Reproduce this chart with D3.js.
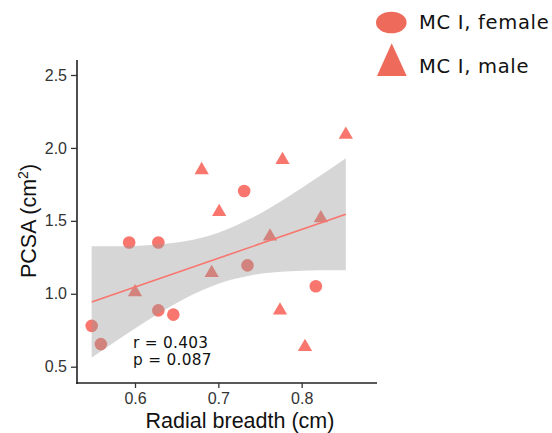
<!DOCTYPE html>
<head>
<meta charset="utf-8">
<style>
body { margin: 0; background: #fff; }
svg { display: block; }
</style>
</head>
<body>
<script src="https://d3js.org/d3.v7.min.js"></script>
<script>
(function() {
	// female points (circles)
	var femaleX = [0.548, 0.559, 0.593, 0.628, 0.628, 0.646, 0.731, 0.735, 0.817];
	var femaleY = [0.780, 0.655, 1.352, 1.352, 0.886, 0.857, 1.705, 1.195, 1.052];

	// male points (triangles)
	var maleX = [0.680, 0.777, 0.853, 0.701, 0.600, 0.692, 0.762, 0.823, 0.774, 0.804];
	var maleY = [1.848, 1.918, 2.091, 1.561, 1.011, 1.143, 1.393, 1.518, 0.886, 0.636];

	// fitted line and its confidence band
	var fitX = [0.548, 0.853];
	var fitY = [0.943, 1.546];
	var bandX = [0.548, 0.58, 0.62, 0.66, 0.70, 0.74, 0.78, 0.82, 0.853];
	var bandLo = [0.561, 0.686, 0.835, 0.968, 1.069, 1.127, 1.152, 1.161, 1.162];
	var bandHi = [1.325, 1.326, 1.335, 1.360, 1.419, 1.519, 1.652, 1.801, 1.930];

	var xTicks = [0.6, 0.7, 0.8];
	var yTicks = [0.5, 1.0, 1.5, 2.0, 2.5];
	var legendLabels = ["MC I, female", "MC I, male"];
	var statLabels = ["r = 0.403", "p = 0.087"];

	var W = 552, H = 433;
	var pointCol = "#F8766D", legendCol = "#EE6B5B";

	var sx = d3.scaleLinear().domain([0.5304, 0.8904]).range([77, 377]);
	var sy = d3.scaleLinear().domain([0.5, 2.5]).range([366.7, 75]);

	var svg = d3.select("body").append("svg")
		.attr("width", W)
		.attr("height", H);

	// points
	var pts = svg.append("g");
	pts.selectAll("circle")
		.data(d3.range(femaleX.length))
		.enter().append("circle")
		.attr("cx", function(i) { return sx(femaleX[i]); })
		.attr("cy", function(i) { return sy(femaleY[i]); })
		.attr("r", 6.3)
		.attr("fill", pointCol);

	var tri = d3.symbol(d3.symbolTriangle, 88);
	pts.selectAll("path")
		.data(d3.range(maleX.length))
		.enter().append("path")
		.attr("d", tri)
		.attr("transform", function(i) { return "translate(" + sx(maleX[i]) + "," + sy(maleY[i]) + ")"; })
		.attr("fill", pointCol);

	// band over the points
	var area = d3.area()
		.curve(d3.curveMonotoneX)
		.x(function(i) { return sx(bandX[i]); })
		.y0(function(i) { return sy(bandLo[i]); })
		.y1(function(i) { return sy(bandHi[i]); });
	svg.append("path")
		.attr("d", area(d3.range(bandX.length)))
		.attr("fill", "#999999")
		.attr("fill-opacity", 0.4);

	var line = d3.line()
		.x(function(i) { return sx(fitX[i]); })
		.y(function(i) { return sy(fitY[i]); });
	svg.append("path")
		.attr("d", line(d3.range(fitX.length)))
		.attr("fill", "none")
		.attr("stroke", pointCol)
		.attr("stroke-width", 1.6);

	// axes
	var xAxis = d3.axisBottom(sx).tickValues(xTicks).tickSize(5).tickPadding(5)
		.tickFormat(d3.format(".1f"));
	var gx = svg.append("g").attr("transform", "translate(0,383)").call(xAxis);
	gx.select(".domain").attr("d", "M76,0H377");

	var yAxis = d3.axisLeft(sy).tickValues(yTicks).tickSize(6).tickPadding(4)
		.tickFormat(d3.format(".1f"));
	var gy = svg.append("g").attr("transform", "translate(77,0)").call(yAxis);
	gy.select(".domain").attr("d", "M0,60V384");

	[gx, gy].forEach(function(g) {
		g.selectAll(".domain").attr("stroke", "#222").attr("stroke-width", 1.6);
		g.selectAll(".tick line").attr("stroke", "#333").attr("stroke-width", 1.3);
		g.selectAll(".tick text")
			.attr("font-family", "'Liberation Sans', Arial, sans-serif")
			.attr("font-size", 16)
			.attr("fill", "#333");
	});

	// axis titles
	svg.append("text")
		.attr("x", 240).attr("y", 428)
		.attr("text-anchor", "middle")
		.attr("font-family", "'Liberation Sans', Arial, sans-serif")
		.attr("font-size", 21.5)
		.attr("fill", "#111")
		.text("Radial breadth (cm)");

	var yt = svg.append("text")
		.attr("transform", "translate(36,221) rotate(-90)")
		.attr("text-anchor", "middle")
		.attr("font-family", "'Liberation Sans', Arial, sans-serif")
		.attr("font-size", 21.5)
		.attr("fill", "#111");
	yt.append("tspan").text("PCSA (cm");
	yt.append("tspan").attr("font-size", 14).attr("dy", -8).text("2");
	yt.append("tspan").attr("dy", 8).text(")");

	// r and p
	svg.selectAll("text.stat")
		.data(statLabels)
		.enter().append("text")
		.attr("class", "stat")
		.attr("x", 133)
		.attr("y", function(d, i) { return 347.5 + i * 17.5; })
		.attr("font-family", "'DejaVu Sans', Verdana, sans-serif")
		.attr("font-size", 15.3)
		.attr("letter-spacing", 0.3)
		.attr("fill", "#111")
		.text(function(d) { return d; });

	// legend
	svg.append("ellipse")
		.attr("cx", 391.3).attr("cy", 22.5)
		.attr("rx", 15.3).attr("ry", 10.8)
		.attr("fill", legendCol);
	svg.append("path")
		.attr("d", "M391.7,43.3L406.7,76L377,76Z")
		.attr("fill", legendCol);
	svg.selectAll("text.leg")
		.data(legendLabels)
		.enter().append("text")
		.attr("class", "leg")
		.attr("x", 419)
		.attr("y", function(d, i) { return 28.5 + i * 44.2; })
		.attr("font-family", "'DejaVu Sans', Verdana, sans-serif")
		.attr("font-size", 19.5)
		.attr("letter-spacing", 0.7)
		.attr("fill", "#111")
		.text(function(d) { return d; });
})();
</script>
</body>
